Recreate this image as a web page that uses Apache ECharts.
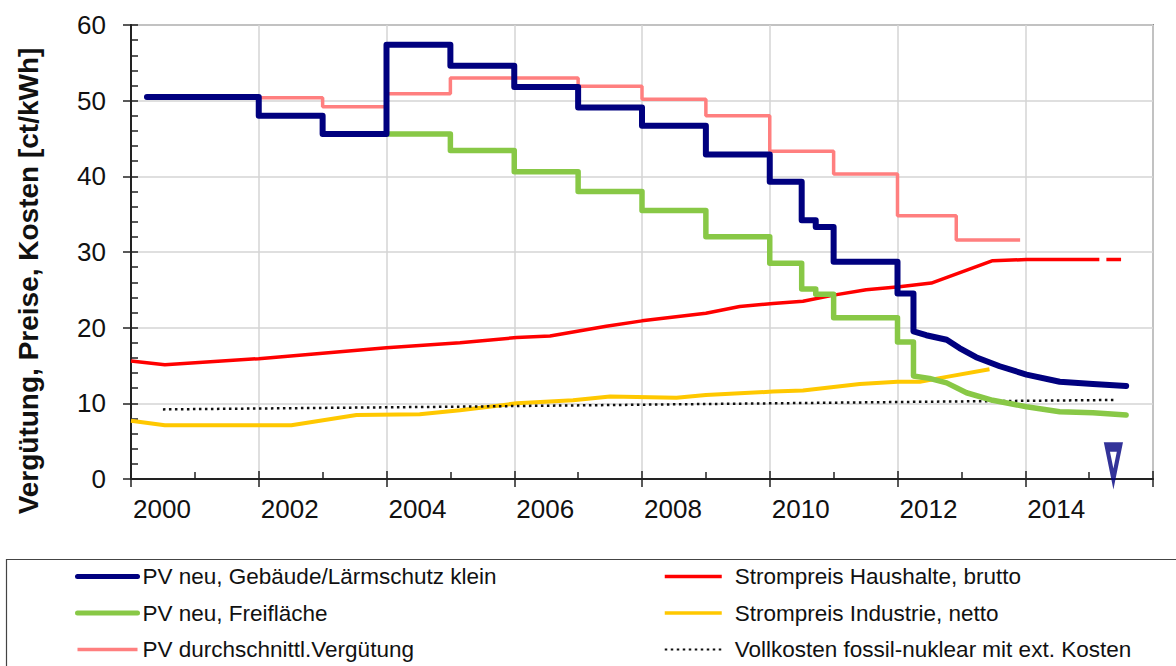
<!DOCTYPE html>
<html>
<head>
<meta charset="utf-8">
<script src="https://cdn.jsdelivr.net/npm/echarts@6/dist/echarts.min.js"></script>
<style>
html,body{margin:0;padding:0;background:#fff;}
#chart{width:1176px;height:666px;}
</style>
</head>
<body>
<div id="chart"></div>
<script>
// ---- data (year, ct/kWh) ----
// step series: each pair = [start year, value held until next step]
const blueSteps = [[2000.25,50.5],[2002,48.0],[2003,45.6],[2004,57.4],[2005,54.6],[2006,51.8],[2007,49.1],[2008,46.7],[2009,42.9],[2010,39.3],[2010.5,34.2],[2010.72,33.3],[2011,28.7],[2012,24.5]];
const blueCurve = [[2012.25,19.5],[2012.45,19.0],[2012.77,18.4],[2012.97,17.3],[2013.23,16.1],[2013.6,14.9],[2014.02,13.8],[2014.54,12.85],[2015.06,12.55],[2015.58,12.3]];
const greenSteps = [[2004,45.6],[2005,43.4],[2006,40.6],[2007,38.0],[2008,35.5],[2009,32.0],[2010,28.5],[2010.5,25.1],[2010.72,24.4],[2011,21.3],[2012,18.1]];
const greenCurve = [[2012.25,13.6],[2012.5,13.3],[2012.77,12.7],[2013.08,11.4],[2013.49,10.4],[2014.02,9.55],[2014.54,8.9],[2015.06,8.75],[2015.58,8.45]];
const pinkSteps = [[2002,50.4],[2003,49.2],[2004,50.9],[2005,53.0],[2007,51.9],[2008,50.2],[2009,48.0],[2010,43.3],[2011,40.3],[2012,34.8],[2012.92,31.6]];
const pinkEnd = 2013.92;
const redLine = [[2000,15.6],[2000.53,15.1],[2002,15.9],[2004,17.35],[2005.15,18.0],[2006.04,18.7],[2006.56,18.9],[2007.44,20.2],[2008,20.9],[2009,21.9],[2009.53,22.8],[2010.05,23.2],[2010.52,23.5],[2011,24.3],[2011.51,25.0],[2012.03,25.4],[2012.53,25.9],[2013.49,28.85],[2014.02,29.0],[2015.16,29.0]];
const redProjection = [[2015.27,29.0],[2015.5,29.0]];
const yellowLine = [[2000,7.7],[2000.53,7.1],[2002,7.1],[2002.51,7.1],[2003.53,8.45],[2004.52,8.55],[2005.15,9.1],[2006.04,10.0],[2006.92,10.4],[2007.5,10.9],[2008.54,10.75],[2009,11.1],[2010.05,11.55],[2010.52,11.7],[2011.41,12.55],[2012,12.85],[2012.35,12.85],[2012.77,13.5],[2013.44,14.5]];
const dottedLine = [[2000.5,9.2],[2005,9.55],[2010,10.0],[2012.3,10.2],[2015.43,10.45]];
const markerPoint = [[2015.38,0]];

const names = ['PV neu, Gebäude/Lärmschutz klein','PV neu, Freifläche','PV durchschnittl.Vergütung',
               'Strompreis Haushalte, brutto','Strompreis Industrie, netto','Vollkosten fossil-nuklear mit ext. Kosten'];
const yTitle = 'Vergütung, Preise, Kosten [ct/kWh]';
const xMin = 2000, xMax = 2016, xStep = 2;
const yMin = 0, yMax = 60, yStep = 10;

function stepsToPoints(steps, endX, tail) {
  const pts = [];
  for (let i = 0; i < steps.length; i++) {
    const x0 = steps[i][0], v = steps[i][1];
    const x1 = i + 1 < steps.length ? steps[i+1][0] : (tail ? tail[0][0] : endX);
    pts.push([x0, v]);
    pts.push([x1, v]);
  }
  if (tail) tail.forEach(p => pts.push(p));
  return pts;
}

const FONT = 'Arial, "Liberation Sans", Helvetica, sans-serif';
const chart = echarts.init(document.getElementById('chart'), null, {renderer: 'svg'});

const lineBase = {type: 'line', symbol: 'none', showSymbol: false, smooth: false, animation: false, z: 3};
const hideSym = {opacity: 0};

chart.setOption({
  animation: false,
  backgroundColor: '#fff',
  grid: {left: 131, top: 25, right: 23, bottom: 187, show: true, borderColor: '#8c8c8c', borderWidth: 2, backgroundColor: 'transparent'},
  xAxis: [{
    type: 'value', min: xMin, max: xMax, interval: xStep, position: 'bottom',
    axisLine: {show: true, lineStyle: {color: '#222', width: 2}},
    axisTick: {show: true, inside: true, length: 8, lineStyle: {color: '#222', width: 1.5}},
    minorTick: {show: true, splitNumber: 2, length: 7, lineStyle: {color: '#222', width: 1.5}},
    splitLine: {show: true, lineStyle: {color: '#d4d4d4', width: 1.5}},
    axisLabel: {show: true, align: 'left', margin: 17, fontSize: 26, color: '#111', fontFamily: FONT,
      padding: [0,0,0,2], showMaxLabel: false,
      formatter: v => (v >= xMax ? '' : String(v))}
  }, {
    type: 'value', min: xMin, max: xMax, interval: xStep, position: 'bottom',
    axisLine: {show: false}, axisLabel: {show: false}, splitLine: {show: false},
    axisTick: {show: true, inside: false, length: 8, lineStyle: {color: '#222', width: 1.5}}
  }],
  yAxis: [{
    type: 'value', min: yMin, max: yMax, interval: yStep, position: 'left',
    name: yTitle, nameLocation: 'middle', nameGap: 89, nameRotate: 90,
    nameTextStyle: {fontSize: 28, fontWeight: 'bold', color: '#111', fontFamily: FONT, padding: [0, 58, 0, 0]},
    axisLine: {show: true, lineStyle: {color: '#222', width: 2}},
    axisTick: {show: true, inside: true, length: 7, lineStyle: {color: '#222', width: 1.5}},
    minorTick: {show: true, splitNumber: 5, length: 7, lineStyle: {color: '#222', width: 1.5}},
    splitLine: {show: true, lineStyle: {color: '#d4d4d4', width: 1.5}},
    axisLabel: {show: true, margin: 25, fontSize: 26, color: '#111', fontFamily: FONT}
  }, {
    type: 'value', min: yMin, max: yMax, interval: yStep, position: 'left',
    axisLine: {show: false}, axisLabel: {show: false}, splitLine: {show: false},
    axisTick: {show: true, inside: false, length: 8, lineStyle: {color: '#222', width: 1.5}}
  }],
  legend: [{
    orient: 'vertical', left: 75, top: 565, padding: 0, itemWidth: 60, itemHeight: 24, itemGap: 13.5,
    textStyle: {fontSize: 22.5, color: '#111', fontFamily: FONT},
    data: [
      {name: names[0], lineStyle: {width: 5}, itemStyle: hideSym},
      {name: names[1], lineStyle: {width: 5}, itemStyle: hideSym},
      {name: names[2], lineStyle: {width: 3.5}, itemStyle: hideSym}
    ]
  }, {
    orient: 'vertical', left: 663, top: 565, padding: 0, itemWidth: 57, itemHeight: 24, itemGap: 13.5,
    textStyle: {fontSize: 22.5, color: '#111', fontFamily: FONT, padding: [0,0,0,8]},
    data: [
      {name: names[3], lineStyle: {width: 3.5}, itemStyle: hideSym},
      {name: names[4], lineStyle: {width: 3.5}, itemStyle: hideSym},
      {name: names[5], lineStyle: {width: 2}, itemStyle: hideSym}
    ]
  }],
  graphic: [{
    type: 'rect', left: 4, top: 557, shape: {width: 1190, height: 130},
    style: {fill: 'none', stroke: '#444', lineWidth: 1.2}, z: -1, silent: true
  }],
  series: [
    Object.assign({}, lineBase, {name: names[2], data: stepsToPoints(pinkSteps, pinkEnd), lineStyle: {color: '#ff7f7f', width: 3.5}, itemStyle: {color: '#ff7f7f'}}),
    Object.assign({}, lineBase, {name: names[4], data: yellowLine, lineStyle: {color: '#ffc800', width: 4}, itemStyle: {color: '#ffc800'}}),
    Object.assign({}, lineBase, {name: names[5], data: dottedLine, lineStyle: {color: '#111', width: 2.5, type: [2.5, 3.5]}, itemStyle: {color: '#111'}}),
    Object.assign({}, lineBase, {name: names[3], data: redLine.concat([[2015.2, '-']], redProjection), connectNulls: false, lineStyle: {color: '#ff0000', width: 3.5}, itemStyle: {color: '#ff0000'}}),
    Object.assign({}, lineBase, {name: names[1], data: stepsToPoints(greenSteps, null, greenCurve), lineStyle: {color: '#88c846', width: 5.5, join: 'round', cap: 'round'}, itemStyle: {color: '#88c846'}}),
    Object.assign({}, lineBase, {name: names[0], data: stepsToPoints(blueSteps, null, blueCurve), lineStyle: {color: '#00007f', width: 6, join: 'round', cap: 'round'}, itemStyle: {color: '#00007f'}}),
    {type: 'scatter', name: 'marker', data: markerPoint, symbol: 'triangle', symbolRotate: 180,
     symbolSize: [13, 32], symbolOffset: [0, '-50%'], clip: false, z: 5,
     itemStyle: {color: '#fff', borderColor: '#00007f', borderWidth: 6}}
  ]
});
</script>
</body>
</html>
